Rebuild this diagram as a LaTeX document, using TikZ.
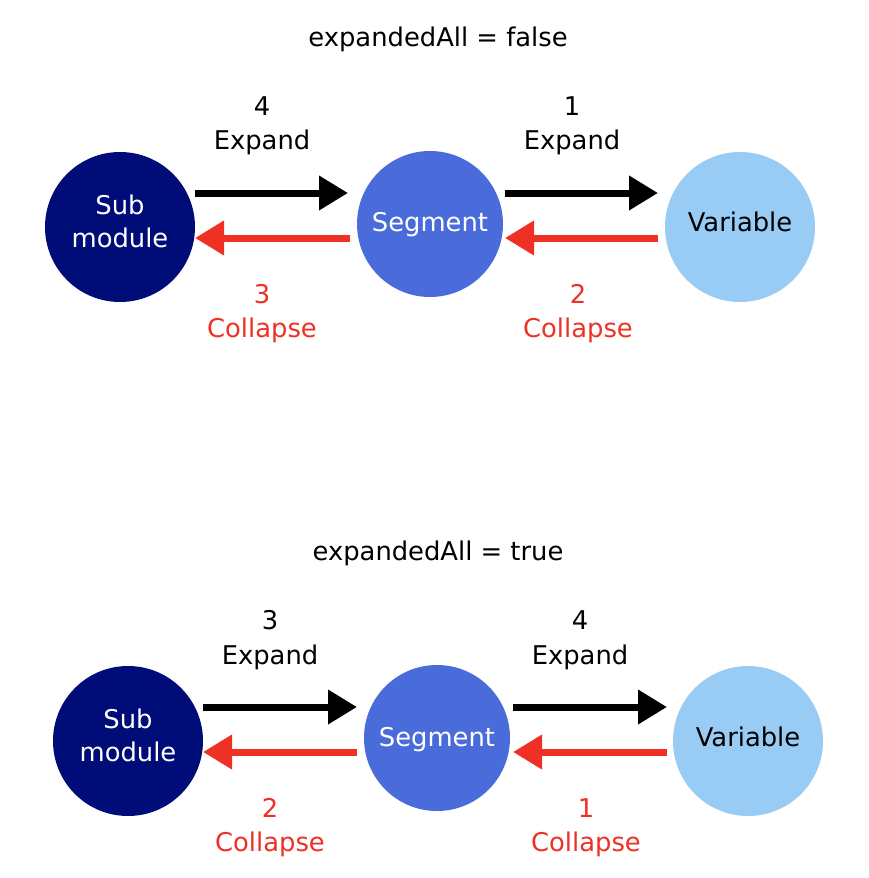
\documentclass[tikz,border=0pt]{standalone}
\usepackage{fontspec}
\setmainfont{DejaVu Sans}
\usetikzlibrary{arrows.meta}
\definecolor{navyc}{HTML}{000C78}
\definecolor{segc}{HTML}{4A6CDB}
\definecolor{varc}{HTML}{99CCF5}
\definecolor{redc}{HTML}{EE3124}
\begin{document}
\begin{tikzpicture}[x=1pt,y=-1pt,font=\fontsize{25.8}{33}\selectfont,
  circ/.style={circle,minimum size=150pt,inner sep=0pt},
  txt/.style={anchor=base},
  redtxt/.style={anchor=base,text=redc},
  wtxt/.style={anchor=base,text=white},
  fwd/.style={line width=7pt,-{Triangle[length=29pt,width=33pt]}},
  bwd/.style={line width=7pt,draw=redc,-{Triangle[length=29pt,width=33pt]}}]
\useasboundingbox[fill=white] (0,0) rectangle (869,878);

% ---------- top diagram ----------
\node[txt] (t1) at (438,46) {expandedAll = false};
\node[circ,fill=navyc] (a1) at (120,227) {};
\node[circ,fill=segc,minimum size=146pt] (b1) at (430,224) {};
\node[circ,fill=varc] (c1) at (740,227) {};
\node[wtxt] (a1t) at (120,214) {Sub};
\node[wtxt] (a1u) at (120,247) {module};
\node[wtxt] (b1t) at (430,231) {Segment};
\node[txt] (c1t) at (740,231) {Variable};

\node[txt] (n1a) at (262,115) {4};
\node[txt] (e1a) at (262,149) {Expand};
\node[txt] (n1b) at (572,115) {1};
\node[txt] (e1b) at (572,149) {Expand};
\node[redtxt] (n1c) at (262,303) {3};
\node[redtxt] (e1c) at (262,337) {Collapse};
\node[redtxt] (n1d) at (578,303) {2};
\node[redtxt] (e1d) at (578,337) {Collapse};

\coordinate (p1) at (195,193); \coordinate (q1) at (348,193);
\coordinate (p2) at (350,238); \coordinate (q2) at (195,238);
\coordinate (p3) at (505,193); \coordinate (q3) at (658,193);
\coordinate (p4) at (658,238); \coordinate (q4) at (505,238);
\draw[fwd] (p1) -- (q1);
\draw[bwd] (p2) -- (q2);
\draw[fwd] (p3) -- (q3);
\draw[bwd] (p4) -- (q4);

% ---------- bottom diagram ----------
\node[txt] (t2) at (438,560) {expandedAll = true};
\node[circ,fill=navyc] (a2) at (128,741) {};
\node[circ,fill=segc,minimum size=146pt] (b2) at (437,738) {};
\node[circ,fill=varc] (c2) at (748,741) {};
\node[wtxt] (a2t) at (128,728) {Sub};
\node[wtxt] (a2u) at (128,761) {module};
\node[wtxt] (b2t) at (437,746) {Segment};
\node[txt] (c2t) at (748,746) {Variable};

\node[txt] (n2a) at (270,629) {3};
\node[txt] (e2a) at (270,664) {Expand};
\node[txt] (n2b) at (580,629) {4};
\node[txt] (e2b) at (580,664) {Expand};
\node[redtxt] (n2c) at (270,817) {2};
\node[redtxt] (e2c) at (270,851) {Collapse};
\node[redtxt] (n2d) at (586,817) {1};
\node[redtxt] (e2d) at (586,851) {Collapse};

\coordinate (r1) at (203,707); \coordinate (s1) at (357,707);
\coordinate (r2) at (357,752); \coordinate (s2) at (203,752);
\coordinate (r3) at (513,707); \coordinate (s3) at (667,707);
\coordinate (r4) at (667,752); \coordinate (s4) at (513,752);
\draw[fwd] (r1) -- (s1);
\draw[bwd] (r2) -- (s2);
\draw[fwd] (r3) -- (s3);
\draw[bwd] (r4) -- (s4);
\end{tikzpicture}
\end{document}
